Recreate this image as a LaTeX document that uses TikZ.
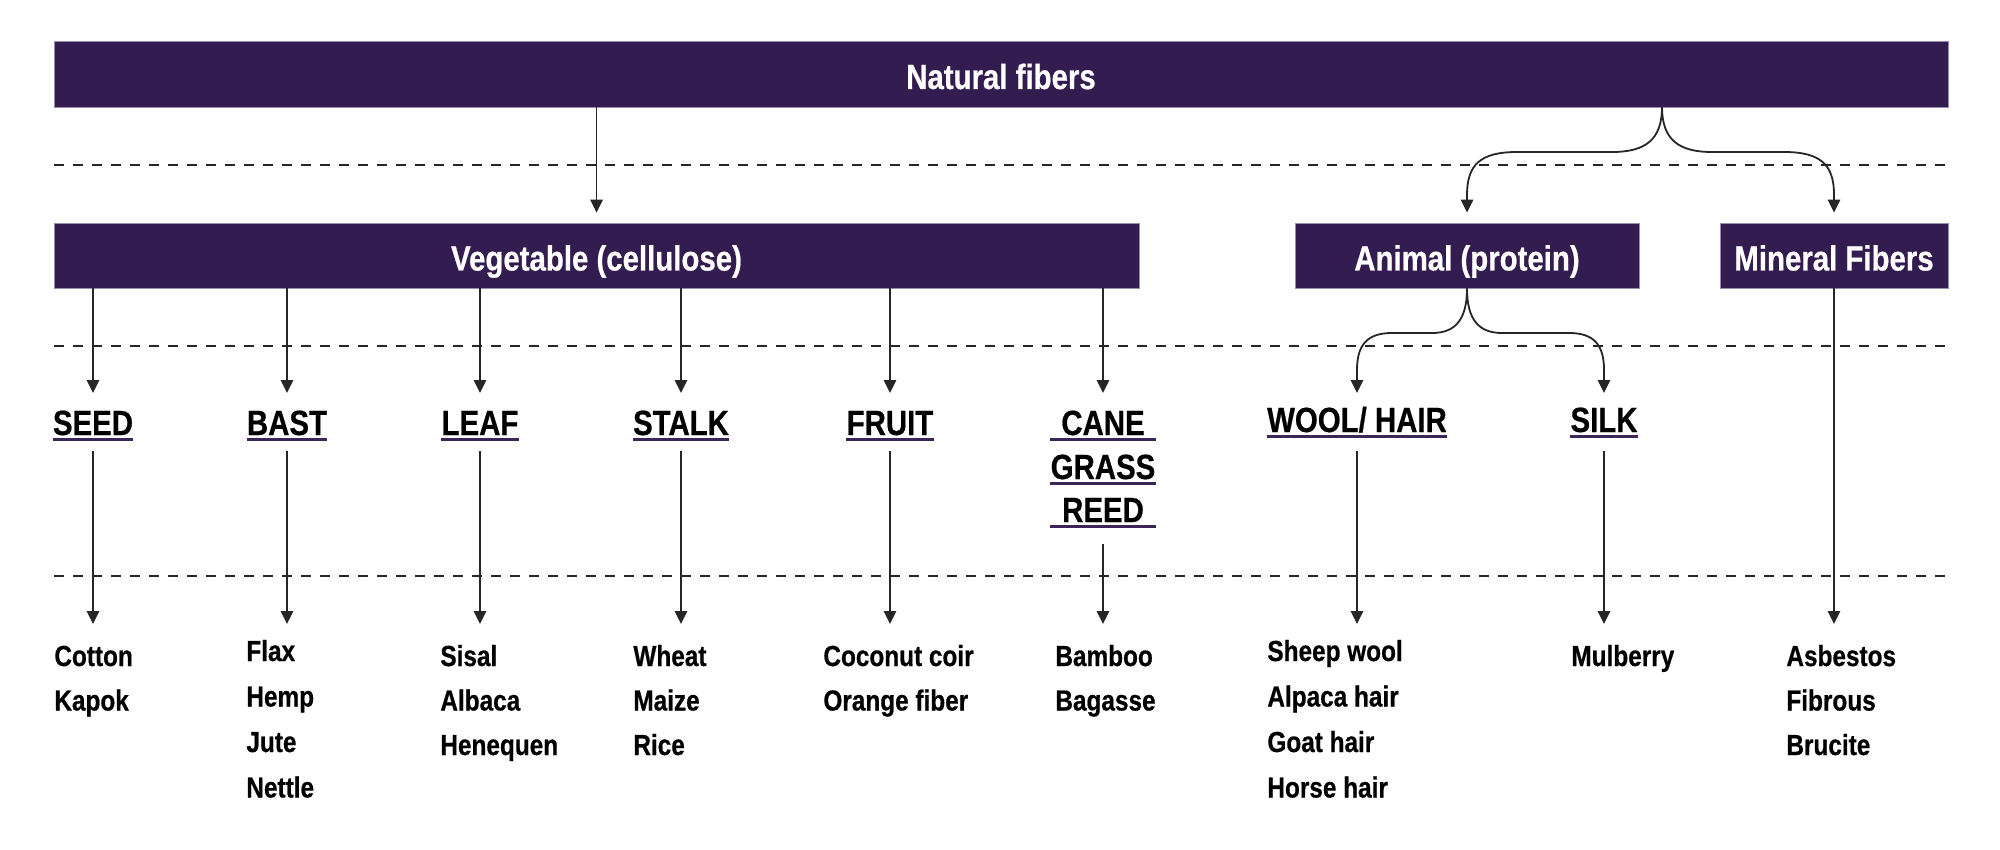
\documentclass[tikz,border=0pt]{standalone}
\usepackage{fontspec}
\setmainfont{Liberation Sans}[FakeStretch=0.84, BoldFeatures={FakeBold=0.6}]
\usetikzlibrary{arrows.meta}
\definecolor{barpurple}{HTML}{331C50}
\definecolor{baredge}{HTML}{9A8CB0}
\definecolor{ulpurple}{HTML}{3B2559}
\definecolor{linegray}{HTML}{262626}
\begin{document}
\begin{tikzpicture}[x=0.5pt,y=-0.5pt,
  bar/.style={fill=barpurple, draw=baredge, line width=0.4pt, inner sep=0pt, text=white,
    font=\fontsize{17.5}{20}\selectfont\bfseries, text height=15pt, text depth=0pt},
  cat/.style={inner sep=0pt, anchor=base, font=\fontsize{17.5}{20}\selectfont\bfseries, text depth=0pt},
  item/.style={inner sep=0pt, anchor=base west, font=\fontsize{14.5}{17}\selectfont\bfseries},
  arr/.style={draw=linegray, line width=0.9pt, -{Triangle[length=6.5pt,width=6.2pt]}},
  uline/.style={draw=ulpurple, line width=1.3pt},
  dashline/.style={draw=linegray, line width=0.7pt, dash pattern=on 5pt off 4.5pt}]
\useasboundingbox (0,0) rectangle (2000,850);

% dashed guide lines
\draw[dashline] (54,165) -- (1948,165);
\draw[dashline] (54,346) -- (1948,346);
\draw[dashline] (54,576) -- (1948,576);

% bars
\node[bar, minimum width=947pt, minimum height=33pt] (nat) at (1001,74) {Natural fibers};
\node[bar, minimum width=542.5pt, minimum height=32.5pt] (veg) at (596.5,255.5) {Vegetable (cellulose)};
\node[bar, minimum width=172pt, minimum height=32.5pt] (animal) at (1467,255.5) {Animal (protein)};
\node[bar, minimum width=114pt, minimum height=32.5pt] (mineral) at (1834,255.5) {Mineral Fibers};

% category labels
\node[cat] (seed) at (93,435) {SEED};
\node[cat] (bast) at (287,435) {BAST};
\node[cat] (leaf) at (480,435) {LEAF};
\node[cat] (stalk) at (681,435) {STALK};
\node[cat] (fruit) at (890,435) {FRUIT};
\node[cat] (cane) at (1103,435) {CANE};
\node[cat] (grass) at (1103,479) {GRASS};
\node[cat] (reed) at (1103,522) {REED};
\node[cat] (wool) at (1357,432) {WOOL/ HAIR};
\node[cat] (silk) at (1604,432) {SILK};

\foreach \n in {seed,bast,leaf,stalk,fruit,wool,silk}
  \draw[uline] ([yshift=-2pt]\n.south west) -- ([yshift=-2pt]\n.south east);
\foreach \n in {cane,grass,reed}
  \draw[uline] ([yshift=-2pt]\n.south -| grass.west) -- ([yshift=-2pt]\n.south -| grass.east);

% level coordinates
\coordinate (tipA) at (0,393);
\coordinate (startB) at (0,451);
\coordinate (tipB) at (0,624);
\coordinate (split1) at (1662,107);

% connectors
\draw[arr, shorten >=5pt] (nat.south -| veg.north) -- (veg.north);
\draw[arr, shorten >=5pt] (split1) .. controls (1662,140) and (1645,152) .. (1612,152) -- (1517,152)
  .. controls (1480,152) and (1467,165) .. (1467,195) -- (animal.north);
\draw[arr, shorten >=5pt] (split1) .. controls (1662,140) and (1679,152) .. (1712,152) -- (1784,152)
  .. controls (1821,152) and (1834,165) .. (1834,195) -- (mineral.north);

\foreach \n in {seed,bast,leaf,stalk,fruit,cane}
  \draw[arr] (\n |- veg.south) -- (\n |- tipA);

\draw[arr] (animal.south) .. controls (1467,320) and (1455,333) .. (1432,333) -- (1392,333)
  .. controls (1367,333) and (1357,345) .. (1357,370) -- (wool |- tipA);
\draw[arr] (animal.south) .. controls (1467,320) and (1479,333) .. (1502,333) -- (1569,333)
  .. controls (1594,333) and (1604,345) .. (1604,370) -- (silk |- tipA);

\foreach \n in {seed,bast,leaf,stalk,fruit,wool,silk}
  \draw[arr] (\n |- startB) -- (\n |- tipB);
\draw[arr] ([yshift=-11pt]reed.south) -- (reed |- tipB);
\draw[arr] (mineral.south) -- (mineral |- tipB);

% items
\foreach \t [count=\i] in {Cotton,Kapok}
  \node[item] (seed-\i) at (54,{666+44.5*(\i-1)}) {\t};
\foreach \t [count=\i] in {Flax,Hemp,Jute,Nettle}
  \node[item] (bast-\i) at (246,{661+45.5*(\i-1)}) {\t};
\foreach \t [count=\i] in {Sisal,Albaca,Henequen}
  \node[item] (leaf-\i) at (440,{666+44.5*(\i-1)}) {\t};
\foreach \t [count=\i] in {Wheat,Maize,Rice}
  \node[item] (stalk-\i) at (633,{666+44.5*(\i-1)}) {\t};
\foreach \t [count=\i] in {Coconut coir,Orange fiber}
  \node[item] (fruit-\i) at (823,{666+44.5*(\i-1)}) {\t};
\foreach \t [count=\i] in {Bamboo,Bagasse}
  \node[item] (cane-\i) at (1055,{666+44.5*(\i-1)}) {\t};
\foreach \t [count=\i] in {Sheep wool,Alpaca hair,Goat hair,Horse hair}
  \node[item] (wool-\i) at (1267,{661+45.5*(\i-1)}) {\t};
\foreach \t [count=\i] in {Mulberry}
  \node[item] (silk-\i) at (1571,{666+44.5*(\i-1)}) {\t};
\foreach \t [count=\i] in {Asbestos,Fibrous,Brucite}
  \node[item] (mineral-\i) at (1786,{666+44.5*(\i-1)}) {\t};
\end{tikzpicture}
\end{document}
